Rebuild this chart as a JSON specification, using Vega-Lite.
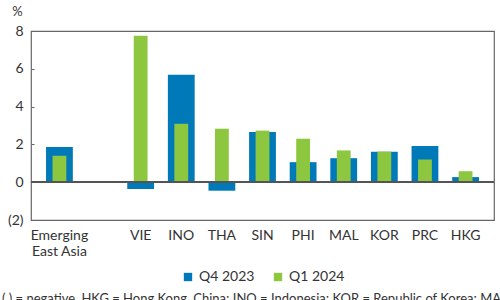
{
  "$schema": "https://vega.github.io/schema/vega-lite/v6.json",
  "autosize": {"type": "none"},
  "width": 463,
  "height": 189,
  "padding": {"left": 31, "top": 31, "right": 6, "bottom": 80},
  "config": {
    "font": "Lato",
    "view": {"stroke": "#666666", "strokeWidth": 1.2},
    "axis": {"labelColor": "#333333", "titleColor": "#333333", "grid": false, "labelOverlap": false},
    "axisY": {"labelOverlap": false, "labelBound": false, "labelFlush": false},
    "legend": {"layout": {"bottom": {"anchor": "middle"}}}
  },
  "title": {
    "text": "( ) = negative, HKG = Hong Kong, China; INO = Indonesia; KOR = Republic of Korea; MAL = Malaysia;",
    "orient": "bottom",
    "anchor": "start",
    "frame": "group",
    "fontSize": 13,
    "fontWeight": "normal",
    "color": "#333333",
    "dx": -29,
    "offset": 9
  },
  "data": {
    "values": [
      {"economy": "Emerging East Asia", "series": "Q4 2023", "value": 1.86},
      {"economy": "Emerging East Asia", "series": "Q1 2024", "value": 1.4},
      {"economy": "VIE", "series": "Q4 2023", "value": -0.36},
      {"economy": "VIE", "series": "Q1 2024", "value": 7.75},
      {"economy": "INO", "series": "Q4 2023", "value": 5.69},
      {"economy": "INO", "series": "Q1 2024", "value": 3.09},
      {"economy": "THA", "series": "Q4 2023", "value": -0.45},
      {"economy": "THA", "series": "Q1 2024", "value": 2.83},
      {"economy": "SIN", "series": "Q4 2023", "value": 2.65},
      {"economy": "SIN", "series": "Q1 2024", "value": 2.73},
      {"economy": "PHI", "series": "Q4 2023", "value": 1.06},
      {"economy": "PHI", "series": "Q1 2024", "value": 2.3},
      {"economy": "MAL", "series": "Q4 2023", "value": 1.27},
      {"economy": "MAL", "series": "Q1 2024", "value": 1.68},
      {"economy": "KOR", "series": "Q4 2023", "value": 1.61},
      {"economy": "KOR", "series": "Q1 2024", "value": 1.62},
      {"economy": "PRC", "series": "Q4 2023", "value": 1.91},
      {"economy": "PRC", "series": "Q1 2024", "value": 1.2},
      {"economy": "HKG", "series": "Q4 2023", "value": 0.27},
      {"economy": "HKG", "series": "Q1 2024", "value": 0.58}
    ]
  },
  "encoding": {
    "x": {
      "field": "economy",
      "type": "nominal",
      "scale": {
        "domain": ["Emerging East Asia", " ", "VIE", "INO", "THA", "SIN", "PHI", "MAL", "KOR", "PRC", "HKG"],
        "paddingInner": 0,
        "paddingOuter": 0.2
      },
      "axis": {
        "title": null,
        "labelAngle": 0,
        "labelFontSize": 14,
        "labelPadding": 8,
        "ticks": false,
        "domain": false,
        "labelExpr": "datum.value == 'Emerging East Asia' ? ['Emerging', 'East Asia'] : datum.label"
      }
    },
    "y": {
      "field": "value",
      "type": "quantitative",
      "scale": {"domain": [-2, 8], "nice": false},
      "axis": {
        "values": [-2, 0, 2, 4, 6, 8],
        "title": "%",
        "titleAngle": 0,
        "titleX": -14,
        "titleY": -20,
        "titleAlign": "center",
        "titleBaseline": "middle",
        "titleFontSize": 13,
        "titleFontWeight": "normal",
        "labelFontSize": 14,
        "labelOverlap": false,
        "tickSize": -3,
        "tickColor": "#666666",
        "labelPadding": 11,
        "domain": false,
        "labelExpr": "datum.value < 0 ? '(' + toString(abs(datum.value)) + ')' : toString(datum.value)"
      }
    }
  },
  "layer": [
    {
      "transform": [{"filter": "datum.series == 'Q4 2023'"}],
      "mark": {"type": "bar", "width": {"band": 0.66}},
      "encoding": {
        "color": {
          "field": "series",
          "type": "nominal",
          "scale": {"domain": ["Q4 2023", "Q1 2024"], "range": ["#0079B8", "#8DC63F"]},
          "legend": {
            "title": null,
            "orient": "bottom",
            "direction": "horizontal",
            "symbolType": "square",
            "symbolSize": 70,
            "symbolStrokeWidth": 0,
            "labelFontSize": 14,
            "labelColor": "#333333",
            "columnPadding": 16,
            "offset": 12
          }
        }
      }
    },
    {
      "transform": [{"filter": "datum.series == 'Q1 2024'"}],
      "mark": {"type": "bar", "width": {"band": 0.34}},
      "encoding": {
        "color": {"field": "series", "type": "nominal"}
      }
    },
    {
      "mark": {"type": "rule", "color": "#555555", "strokeWidth": 1},
      "encoding": {"y": {"datum": 0}, "x": {"value": 0}, "x2": {"value": 463}}
    }
  ]
}
